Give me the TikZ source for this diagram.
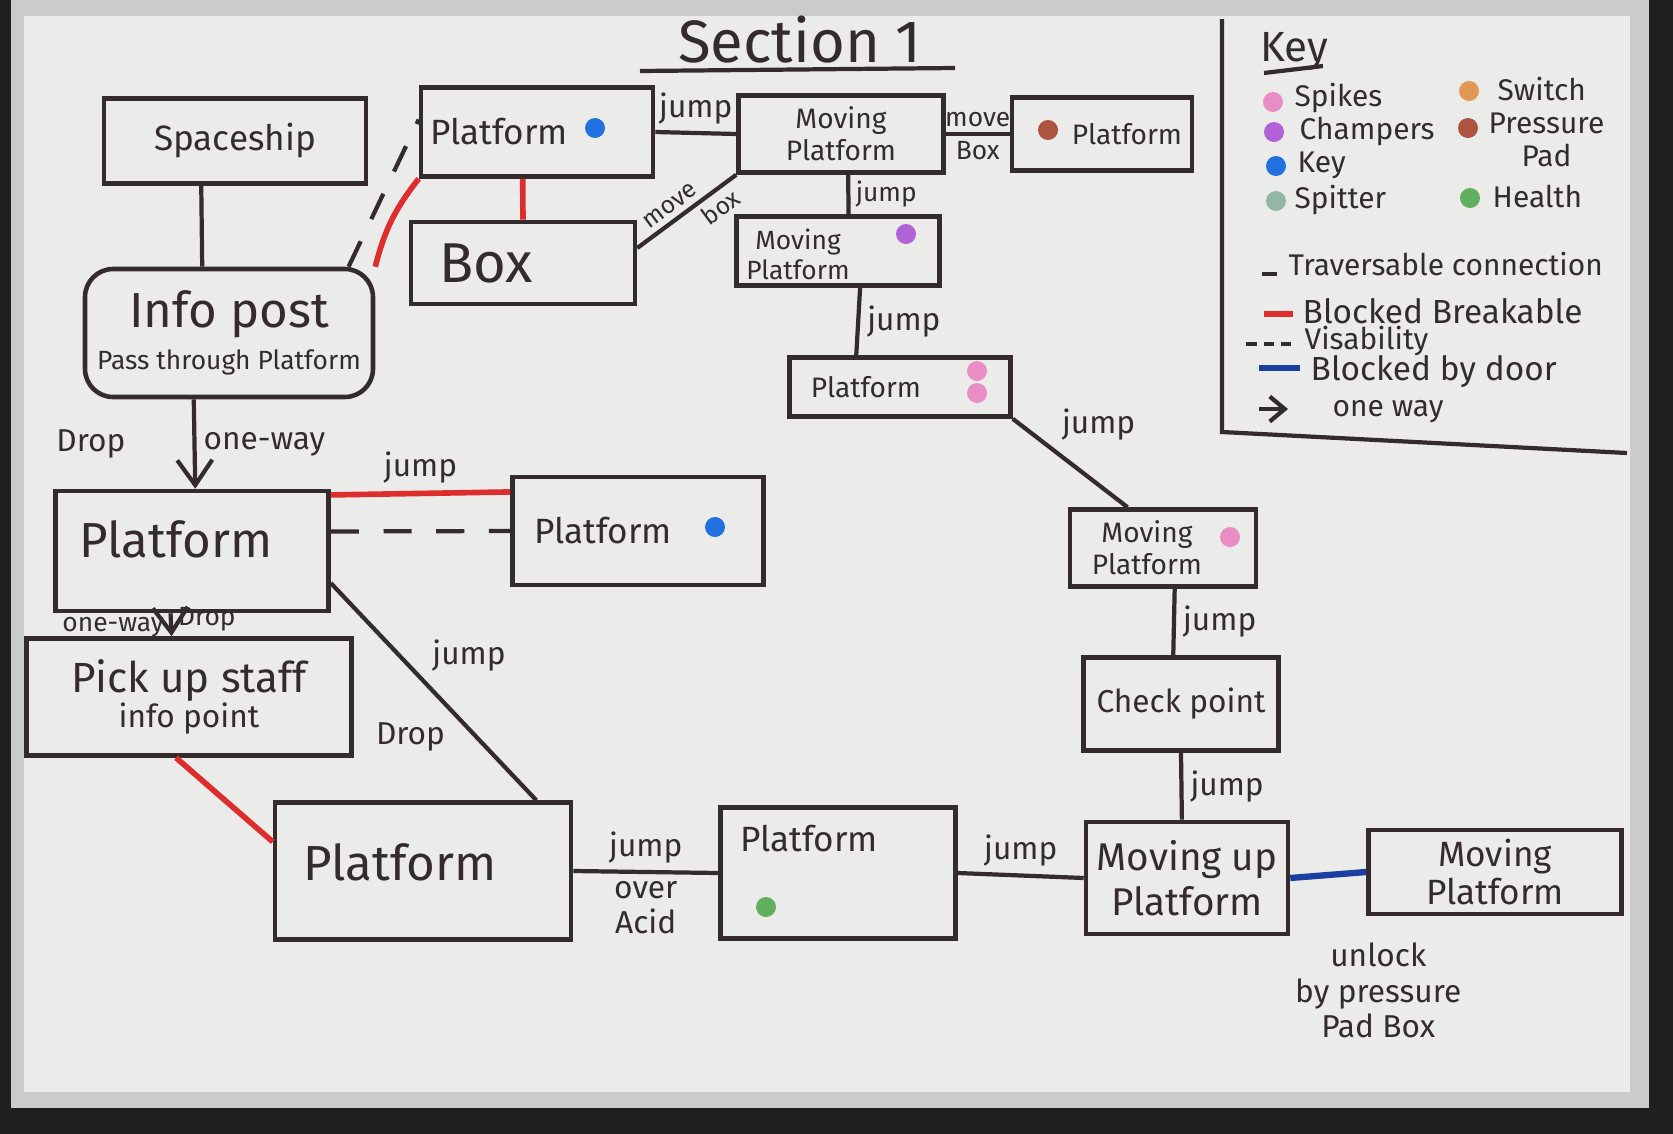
\documentclass[tikz,border=0pt]{standalone}
\usepackage{fontspec}
\setmainfont{Fira Sans}
\usepackage{xcolor}
\usetikzlibrary{arrows.meta, positioning}

\definecolor{ink}{RGB}{52,44,44}
\definecolor{brkred}{RGB}{222,45,45}
\definecolor{doorblue}{RGB}{28,62,160}
\definecolor{keyblue}{RGB}{32,112,222}
\definecolor{spikepink}{RGB}{232,142,196}
\definecolor{chomppurple}{RGB}{176,98,214}
\definecolor{spitgreen}{RGB}{146,184,164}
\definecolor{switchorange}{RGB}{224,152,84}
\definecolor{padbrown}{RGB}{172,84,62}
\definecolor{healthgreen}{RGB}{96,176,96}
\definecolor{board}{RGB}{235,235,233}
\definecolor{rim}{RGB}{202,204,204}

\begin{document}
\begin{tikzpicture}[
      plat/.style={
         rectangle,
         draw=ink,
         line width=1.3pt,
         inner sep=0pt,
         text=ink,
         font=\fontsize{9}{10}\selectfont},
      dot/.style={circle, inner sep=0pt, minimum size=2mm},
      link/.style={draw=ink, line width=1.2pt},
      broken/.style={draw=brkred, line width=1.6pt},
      door/.style={draw=doorblue, line width=1.8pt},
      seen/.style={draw=ink, line width=1.2pt, dash pattern=on 8pt off 7pt},
      myarrow/.style={-{Straight Barb[length=2.5mm,width=3.5mm]}},
      lbl/.style={font=\fontsize{9}{10}\selectfont, text=ink, inner sep=2pt},
      small/.style={font=\fontsize{7.5}{8.5}\selectfont, text=ink, inner sep=1.5pt},
      keytxt/.style={font=\fontsize{8.5}{9.5}\selectfont, text=ink, anchor=west, inner sep=0pt}
      ]
      % whiteboard
      \fill[black!88] (0,0) rectangle (16.73,-11.34);
      \fill[rim] (0.11,0) rectangle (16.49,-11.08);
      \fill[board] (0.24,-0.16) rectangle (16.30,-10.92);

      \node[font=\fontsize{17}{19}\selectfont, text=ink] (title) at (8.00,-0.40) {Section 1};
      \draw[link] (6.40,-0.71) -- (9.55,-0.68);

      % rooms
      \node[plat, minimum width=2.62cm, minimum height=0.85cm, font=\fontsize{10}{11}\selectfont] at (2.35,-1.41) (ss) {Spaceship};
      \node[plat, minimum width=2.88cm, minimum height=1.28cm, rounded corners=8pt, align=center] at (2.29,-3.33) (info) {{\fontsize{14}{16}\selectfont Info post}\\[2pt]{\fontsize{7.5}{9}\selectfont Pass through Platform}};
      \node[plat, minimum width=2.32cm, minimum height=0.89cm, label={[xshift=-0.38cm, text=ink]center:Platform}] at (5.37,-1.32) (pbt) {};
      \node[plat, minimum width=2.24cm, minimum height=0.82cm, label={[xshift=-0.37cm, text=ink, font=\fontsize{16}{18}\selectfont]center:Box}] at (5.23,-2.63) (box) {};
      \node[plat, minimum width=2.05cm, minimum height=0.77cm, align=center, font=\fontsize{8}{9}\selectfont] at (8.41,-1.34) (mpt) {Moving\\Platform};
      \node[plat, minimum width=1.80cm, minimum height=0.73cm, label={[xshift=0.25cm, text=ink, font=\fontsize{8}{9}\selectfont]center:Platform}] at (11.02,-1.34) (pbr) {};
      \node[plat, minimum width=2.03cm, minimum height=0.69cm, label={[xshift=-0.40cm, yshift=-0.03cm, text=ink, align=center, font=\fontsize{7.5}{8.5}\selectfont]center:Moving\\Platform}] at (8.38,-2.51) (mpp) {};
      \node[plat, minimum width=2.21cm, minimum height=0.59cm, label={[xshift=-0.34cm, text=ink, font=\fontsize{8}{9}\selectfont]center:Platform}] at (9.00,-3.87) (pp2) {};
      \node[plat, minimum width=1.86cm, minimum height=0.77cm, label={[xshift=-0.16cm, text=ink, align=center, font=\fontsize{8}{9}\selectfont]center:Moving\\Platform}] at (11.63,-5.48) (mpk) {};
      \node[plat, minimum width=1.95cm, minimum height=0.93cm] at (11.81,-7.04) (cp) {Check point};
      \node[plat, minimum width=2.02cm, minimum height=1.12cm, align=center, font=\fontsize{11}{13}\selectfont] at (11.87,-8.78) (mup) {Moving up\\Platform};
      \node[plat, minimum width=2.53cm, minimum height=0.84cm, align=center, font=\fontsize{10}{11}\selectfont] at (14.95,-8.72) (mpr) {Moving\\Platform};
      \node[plat, minimum width=2.35cm, minimum height=1.31cm, label={[xshift=-0.29cm, yshift=0.34cm, text=ink, font=\fontsize{10}{11}\selectfont]center:Platform}] at (8.38,-8.73) (pg) {};
      \node[plat, minimum width=2.96cm, minimum height=1.37cm, label={[xshift=-0.23cm, yshift=0.09cm, text=ink, font=\fontsize{14}{16}\selectfont]center:Platform}] at (4.23,-8.71) (pb) {};
      \node[plat, minimum width=3.25cm, minimum height=1.17cm, align=center] at (1.89,-6.97) (pus) {{\fontsize{12}{14}\selectfont Pick up staff}\\{\fontsize{9}{10}\selectfont info point}};
      \node[plat, minimum width=2.73cm, minimum height=1.20cm, label={[xshift=-0.16cm, yshift=0.12cm, text=ink, font=\fontsize{14}{16}\selectfont]center:Platform}] at (1.92,-5.51) (pl) {};
      \node[plat, minimum width=2.51cm, minimum height=1.08cm, label={[xshift=-0.35cm, text=ink, font=\fontsize{10}{11}\selectfont]center:Platform}] at (6.38,-5.31) (pbm) {};

      % pickups in rooms
      \node[dot, fill=keyblue] at (5.95,-1.28) (pbt-key) {};
      \node[dot, fill=padbrown] at (10.48,-1.30) (pbr-pad) {};
      \node[dot, fill=chomppurple] at (9.06,-2.34) (mpp-chomp) {};
      \node[dot, fill=spikepink] at (9.77,-3.71) (pp2-spk1) {};
      \node[dot, fill=spikepink] at (9.77,-3.93) (pp2-spk2) {};
      \node[dot, fill=spikepink] at (12.30,-5.37) (mpk-spk) {};
      \node[dot, fill=keyblue] at (7.15,-5.27) (pbm-key) {};
      \node[dot, fill=healthgreen] at (7.66,-9.07) (pg-hp) {};

      % traversable
    \foreach \i/\j/\txt/\p/\pp in {% start node/end node/text/position
      ss.233/info.112//right/0.5,
      pbt.east/mpt.west/jump/above/0.5,
      mpp.301/pp2.144/jump/right/0.5,
      mpk.286/cp.99/jump/right/0.5,
      cp.south/mup.95/jump/right/0.5,
      pg.east/mup.west/jump/above/0.5
      }
       \draw [link] (\i) -- node[lbl,\p,pos=\pp] {\txt} (\j);

      \draw[link] (mpt.280) -- node[small, right] {jump} (mpp.74);
      \draw[link] (pp2.south east) -- node[lbl, above right, pos=0.35] {jump} (mpk.131);
      \draw[link] ([yshift=1.5mm]box.east) -- node[small, above, sloped, pos=0.42, font=\fontsize{7}{8}\selectfont] {move} node[small, below, sloped, pos=0.74, font=\fontsize{7}{8}\selectfont] {box} (mpt.south west);
      \draw[link] (mpt.east) -- node[small, above] {move} node[small, below] {Box} (pbr.west);
      \draw[link] (pb.east) -- node[lbl, above] {jump} node[lbl, below, align=center] {over\\Acid} (pg.west);
      \draw[link] (pl.347) -- node[lbl, above right, pos=0.45] {jump} node[lbl, below left, pos=0.6] {Drop} (pb.32);

      % one way
      \draw[link, myarrow] (info.242) -- node[lbl, left=6mm] {Drop} node[lbl, right] {one-way} (pl.87);
      \draw[link, myarrow] (pl.251) -- node[small, right, pos=0.25] {Drop} node[small, left, pos=0.6] {one-way} (pus.106);

      % blocked / visibility / door
      \draw[broken] (info.north east) to[bend left=12] (pbt.south west);
      \draw[broken] (pbt.253) -- (box.north);
      \draw[broken] (pl.22) -- node[lbl, above] {jump} (pbm.163);
      \draw[broken] (pus.258) -- (pb.169);
      \draw[seen] (info.29) -- (pbt.174);
      \draw[seen] (pl.8) -- (pbm.west);
      \draw[door] (mup.east) -- node[lbl, anchor=north, align=center, xshift=5mm, yshift=-5.8mm] {unlock\\by pressure\\Pad Box} (mpr.west);

      % key
      \draw[link] (12.22,-0.19) -- (12.22,-4.32) -- (16.27,-4.53);
      \node[font=\fontsize{12}{14}\selectfont, text=ink] at (12.94,-0.51) (keyhead) {Key};
      \draw[link] (12.64,-0.73) -- (13.23,-0.66);

      \node[dot, fill=spikepink] at (12.73,-1.02) (k-spk) {};
      \node[keytxt] at (12.94,-0.98) (t-spk) {Spikes};
      \node[dot, fill=chomppurple] at (12.74,-1.32) (k-chomp) {};
      \node[keytxt] at (12.99,-1.32) (t-chomp) {Champers};
      \node[dot, fill=keyblue] at (12.76,-1.66) (k-key) {};
      \node[keytxt] at (12.97,-1.65) (t-key) {Key};
      \node[dot, fill=spitgreen] at (12.76,-2.01) (k-spit) {};
      \node[keytxt] at (12.94,-2.00) (t-spit) {Spitter};
      \node[dot, fill=switchorange] at (14.69,-0.91) (k-sw) {};
      \node[keytxt] at (14.97,-0.89) (t-sw) {Switch};
      \node[dot, fill=padbrown] at (14.68,-1.28) (k-pad) {};
      \node[keytxt, align=center] at (14.88,-1.40) (t-pad) {Pressure\\Pad};
      \node[dot, fill=healthgreen] at (14.70,-1.98) (k-hp) {};
      \node[keytxt] at (14.92,-1.96) (t-hp) {Health};

      \coordinate (l1a) at (12.62,-2.74); \coordinate (l1b) at (12.77,-2.74);
      \coordinate (l2a) at (12.64,-3.14); \coordinate (l2b) at (12.93,-3.14);
      \coordinate (l3a) at (12.46,-3.44); \coordinate (l3b) at (12.91,-3.44);
      \coordinate (l4a) at (12.59,-3.68); \coordinate (l4b) at (13.00,-3.68);
      \coordinate (l5a) at (12.59,-4.09); \coordinate (l5b) at (12.88,-4.09);
      \draw[link] (l1a) -- (l1b);
      \draw[broken] (l2a) -- (l2b);
      \draw[link, dash pattern=on 3pt off 2pt] (l3a) -- (l3b);
      \draw[door] (l4a) -- (l4b);
      \draw[link, -{Straight Barb[length=1.5mm,width=2.5mm]}] (l5a) -- (l5b);
      \node[keytxt] at (12.88,-2.64) (t-trav) {Traversable connection};
      \node[keytxt, font=\fontsize{9.5}{10}\selectfont] at (13.02,-3.11) (t-brk) {Blocked Breakable};
      \node[keytxt] at (13.04,-3.41) (t-vis) {Visability};
      \node[keytxt, font=\fontsize{9.5}{10}\selectfont] at (13.10,-3.72) (t-door) {Blocked by door};
      \node[keytxt] at (13.32,-4.12) (t-one) {one way};

    \end{tikzpicture}
\end{document}
